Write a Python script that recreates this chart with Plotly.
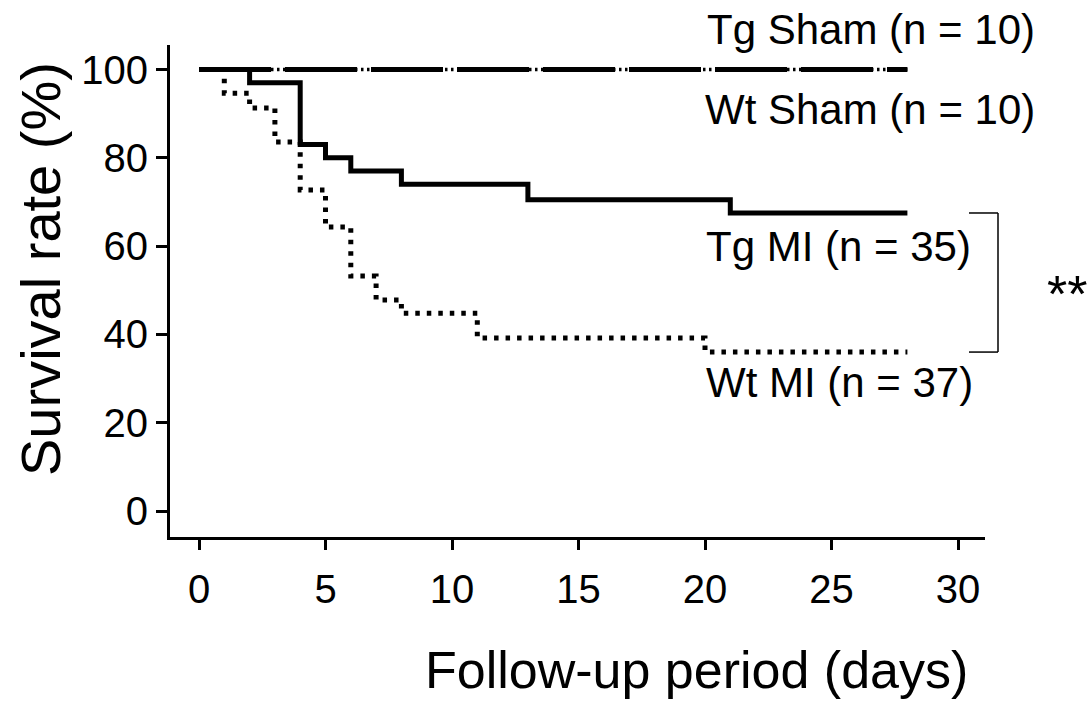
import plotly.graph_objects as go

# ---- data ----
sham_days = [0, 28]
tg_sham_surv = [100, 100]
wt_sham_surv = [100, 100]

tg_mi_days = [0, 2, 4, 5, 6, 8, 13, 21, 28]
tg_mi_surv = [100, 97, 83, 80, 77, 74, 70.5, 67.5, 67.5]

wt_mi_days = [0, 1, 2, 3, 4, 5, 6, 7, 8, 11, 20, 28]
wt_mi_surv = [100, 94.6, 91.3, 83.6, 72.7, 64.3, 53.2, 47.8, 44.8, 39.2, 36, 36]

x_ticks = [0, 5, 10, 15, 20, 25, 30]
y_ticks = [0, 20, 40, 60, 80, 100]

labels = {
    "tg_sham": "Tg Sham (n = 10)",
    "wt_sham": "Wt Sham (n = 10)",
    "tg_mi": "Tg MI (n = 35)",
    "wt_mi": "Wt MI (n = 37)",
}

FONT = "Arial, 'Liberation Sans', Helvetica, sans-serif"

fig = go.Figure()

fig.add_trace(go.Scatter(x=sham_days, y=wt_sham_surv, mode="lines", name=labels["wt_sham"],
                         line=dict(color="black", width=3.5, dash="2.5px,3.5px", shape="hv")))
fig.add_trace(go.Scatter(x=sham_days, y=tg_sham_surv, mode="lines", name=labels["tg_sham"],
                         line=dict(color="black", width=5, dash="72px,14px", shape="hv")))
fig.add_trace(go.Scatter(x=wt_mi_days, y=wt_mi_surv, mode="lines", name=labels["wt_mi"],
                         line=dict(color="black", width=5, dash="4.5px,7px", shape="hv")))
fig.add_trace(go.Scatter(x=tg_mi_days, y=tg_mi_surv, mode="lines", name=labels["tg_mi"],
                         line=dict(color="black", width=5, shape="hv")))

W, H = 1090, 703
L, R, T, B = 170, 105, 45, 166
pw, ph = W - L - R, H - T - B


def px(xp):
    return (xp - L) / pw


def py(yp):
    return (H - B - yp) / ph


annos = [
    dict(text=labels["tg_sham"], x=px(1037), y=py(30), xanchor="right", yanchor="middle", size=42),
    dict(text=labels["wt_sham"], x=px(1037), y=py(110), xanchor="right", yanchor="middle", size=42),
    dict(text=labels["tg_mi"], x=px(973), y=py(247), xanchor="right", yanchor="middle", size=42),
    dict(text=labels["wt_mi"], x=px(975), y=py(382), xanchor="right", yanchor="middle", size=42),
    dict(text="**", x=px(1067), y=py(294), xanchor="center", yanchor="middle", size=52),
    dict(text="Follow-up period (days)", x=px(970), y=py(670), xanchor="right", yanchor="middle", size=52),
]
for a in annos:
    fig.add_annotation(text=a["text"], x=a["x"], y=a["y"], xref="paper", yref="paper",
                       xanchor=a["xanchor"], yanchor=a["yanchor"], showarrow=False,
                       font=dict(family=FONT, size=a["size"], color="black"))

fig.add_annotation(text="Survival rate (%)", x=px(40), y=py(269), xref="paper", yref="paper",
                   xanchor="center", yanchor="middle", textangle=-90, showarrow=False,
                   font=dict(family=FONT, size=56, color="black"))

# significance bracket between the two MI curves
bx0, bx1 = px(969), px(998)
br_top, br_bot = tg_mi_surv[-1], wt_mi_surv[-1]
for x0, y0, x1, y1 in [(bx0, br_top, bx1, br_top), (bx1, br_top, bx1, br_bot), (bx0, br_bot, bx1, br_bot)]:
    fig.add_shape(type="line", xref="paper", yref="y", x0=x0, y0=y0, x1=x1, y1=y1,
                  line=dict(color="black", width=1.5))

fig.update_layout(
    width=W, height=H,
    margin=dict(l=L, r=R, t=T, b=B),
    paper_bgcolor="white", plot_bgcolor="white",
    showlegend=False,
    font=dict(family=FONT, color="black"),
    xaxis=dict(range=[-29 / 25.3, (pw - 29) / 25.3], tickvals=x_ticks, ticktext=[str(v) for v in x_ticks],
               showgrid=False, zeroline=False, showline=True, linecolor="black", linewidth=3,
               ticks="outside", ticklen=10, tickwidth=3, tickcolor="black",
               tickfont=dict(family=FONT, size=40, color="black"), ticklabelstandoff=5),
    yaxis=dict(range=[-(H - B - 511) / 4.415, (511 - T) / 4.415], tickvals=y_ticks,
               ticktext=[str(v) for v in y_ticks],
               showgrid=False, zeroline=False, showline=True, linecolor="black", linewidth=3,
               ticks="outside", ticklen=11, tickwidth=3, tickcolor="black",
               tickfont=dict(family=FONT, size=40, color="black"), ticklabelstandoff=0),
)

fig.write_html("out.html")
